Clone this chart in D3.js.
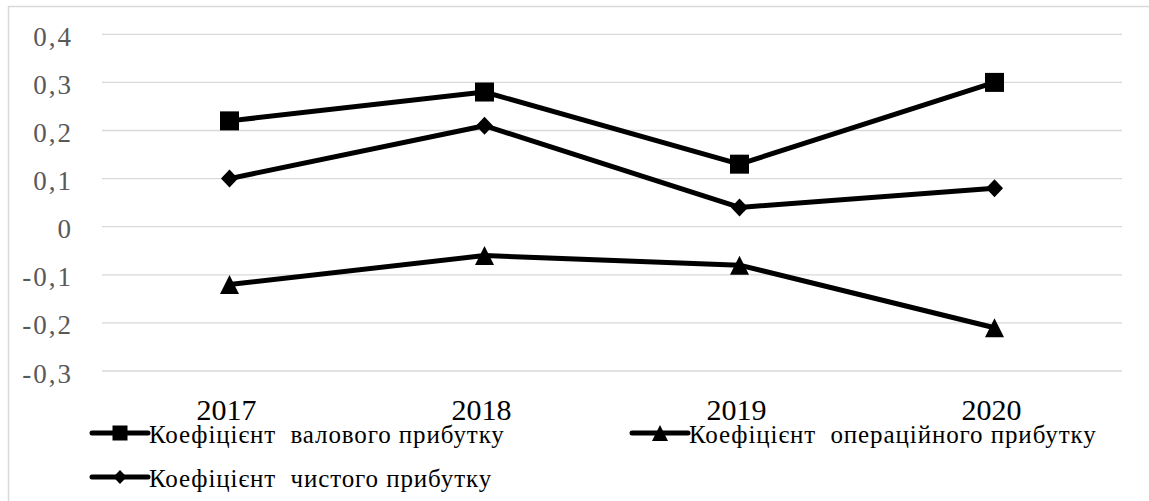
<!DOCTYPE html>
<html>
<head>
<meta charset="utf-8">
<script src="https://cdn.jsdelivr.net/npm/d3@7/dist/d3.min.js"></script>
<style>
  html, body { margin: 0; padding: 0; background: #fff; }
  svg { display: block; }
</style>
</head>
<body>
<svg id="chart" width="1149" height="501"></svg>
<script>
// Profitability ratios by year
const years = ["2017", "2018", "2019", "2020"];
const grossMargin = [0.22, 0.28, 0.13, 0.30];
const operatingMargin = [-0.12, -0.06, -0.08, -0.21];
const netMargin = [0.10, 0.21, 0.04, 0.08];
const yTicks = [0.4, 0.3, 0.2, 0.1, 0, -0.1, -0.2, -0.3];

const seriesNames = [
  "Коефіцієнт  валового прибутку",
  "Коефіцієнт  операційного прибутку",
  "Коефіцієнт  чистого прибутку"
];

const series = [
  { name: seriesNames[0], values: grossMargin, marker: "square" },
  { name: seriesNames[1], values: operatingMargin, marker: "triangle" },
  { name: seriesNames[2], values: netMargin, marker: "diamond" }
];

const FONT = "'Liberation Serif', 'Times New Roman', serif";
const svg = d3.select("#chart");

// chart frame
svg.append("rect")
  .attr("x", 8.5).attr("y", 6.5)
  .attr("width", 1160).attr("height", 520)
  .attr("fill", "none")
  .attr("stroke", "#d9d9d9")
  .attr("stroke-width", 1.5);

const x = d3.scaleBand().domain(years).range([102, 1122]).paddingInner(0).paddingOuter(0);
const y = d3.scaleLinear().domain([-0.3, 0.4]).range([371, 34.3]);
const cx = d => x(d) + x.bandwidth() / 2;

// horizontal gridlines
svg.append("g").selectAll("line")
  .data(yTicks)
  .join("line")
  .attr("x1", 102).attr("x2", 1122)
  .attr("y1", d => y(d)).attr("y2", d => y(d))
  .attr("stroke", "#d9d9d9")
  .attr("stroke-width", 1.3);

// y-axis labels with decimal comma and plain hyphen for negatives
const fmt = d => d === 0 ? "0" : d3.format(".1f")(d).replace("\u2212", "-").replace(".", ",");
svg.append("g").selectAll("text")
  .data(yTicks)
  .join("text")
  .attr("x", 73)
  .attr("y", d => y(d) + 11.5)
  .attr("text-anchor", "end")
  .attr("fill", "#595959")
  .attr("font-family", FONT)
  .attr("font-size", 27)
  .attr("letter-spacing", 2)
  .text(fmt);

// category labels
svg.append("g").selectAll("text")
  .data(years)
  .join("text")
  .attr("x", d => cx(d) - 3)
  .attr("y", 420)
  .attr("text-anchor", "middle")
  .attr("fill", "#000")
  .attr("font-family", FONT)
  .attr("font-size", 30)
  .text(d => d);

// marker shapes
function drawMarker(g, type, px, py, s) {
  if (type === "square") {
    g.append("rect")
      .attr("x", px - s / 2).attr("y", py - s / 2)
      .attr("width", s).attr("height", s)
      .attr("fill", "#000");
  } else if (type === "diamond") {
    const h = s / 2;
    g.append("path")
      .attr("d", `M${px},${py - h}L${px + h * 0.95},${py}L${px},${py + h}L${px - h * 0.95},${py}Z`)
      .attr("fill", "#000");
  } else {
    const h = s / 2;
    g.append("path")
      .attr("d", `M${px},${py - h}L${px + h},${py + h}L${px - h},${py + h}Z`)
      .attr("fill", "#000");
  }
}

const line = d3.line().x(d => cx(d.year)).y(d => y(d.value));
const markerSize = { square: 19, diamond: 18, triangle: 19 };

series.forEach(s => {
  const pts = years.map((yr, i) => ({ year: yr, value: s.values[i] }));
  const g = svg.append("g");
  g.append("path")
    .datum(pts)
    .attr("d", line)
    .attr("fill", "none")
    .attr("stroke", "#000")
    .attr("stroke-width", 5)
    .attr("stroke-linejoin", "round");
  pts.forEach(p => drawMarker(g, s.marker, cx(p.year), y(p.value), markerSize[s.marker]));
});

// legend
const legendItems = [
  { s: series[0], lx: 92, ly: 433 },
  { s: series[1], lx: 632, ly: 433 },
  { s: series[2], lx: 92, ly: 477 }
];
const legendMarker = { square: 15, diamond: 14, triangle: 16 };
legendItems.forEach(it => {
  const g = svg.append("g");
  g.append("line")
    .attr("x1", it.lx).attr("x2", it.lx + 56)
    .attr("y1", it.ly).attr("y2", it.ly)
    .attr("stroke", "#000")
    .attr("stroke-width", 5)
    .attr("stroke-linecap", "round");
  drawMarker(g, it.s.marker, it.lx + 28, it.ly, legendMarker[it.s.marker]);
  g.append("text")
    .attr("x", it.lx + 57)
    .attr("y", it.ly + 10)
    .attr("fill", "#000")
    .attr("font-family", FONT)
    .attr("font-size", 25)
    .attr("letter-spacing", 0.9)
    .style("white-space", "pre")
    .text(it.s.name);
});
</script>
</body>
</html>
